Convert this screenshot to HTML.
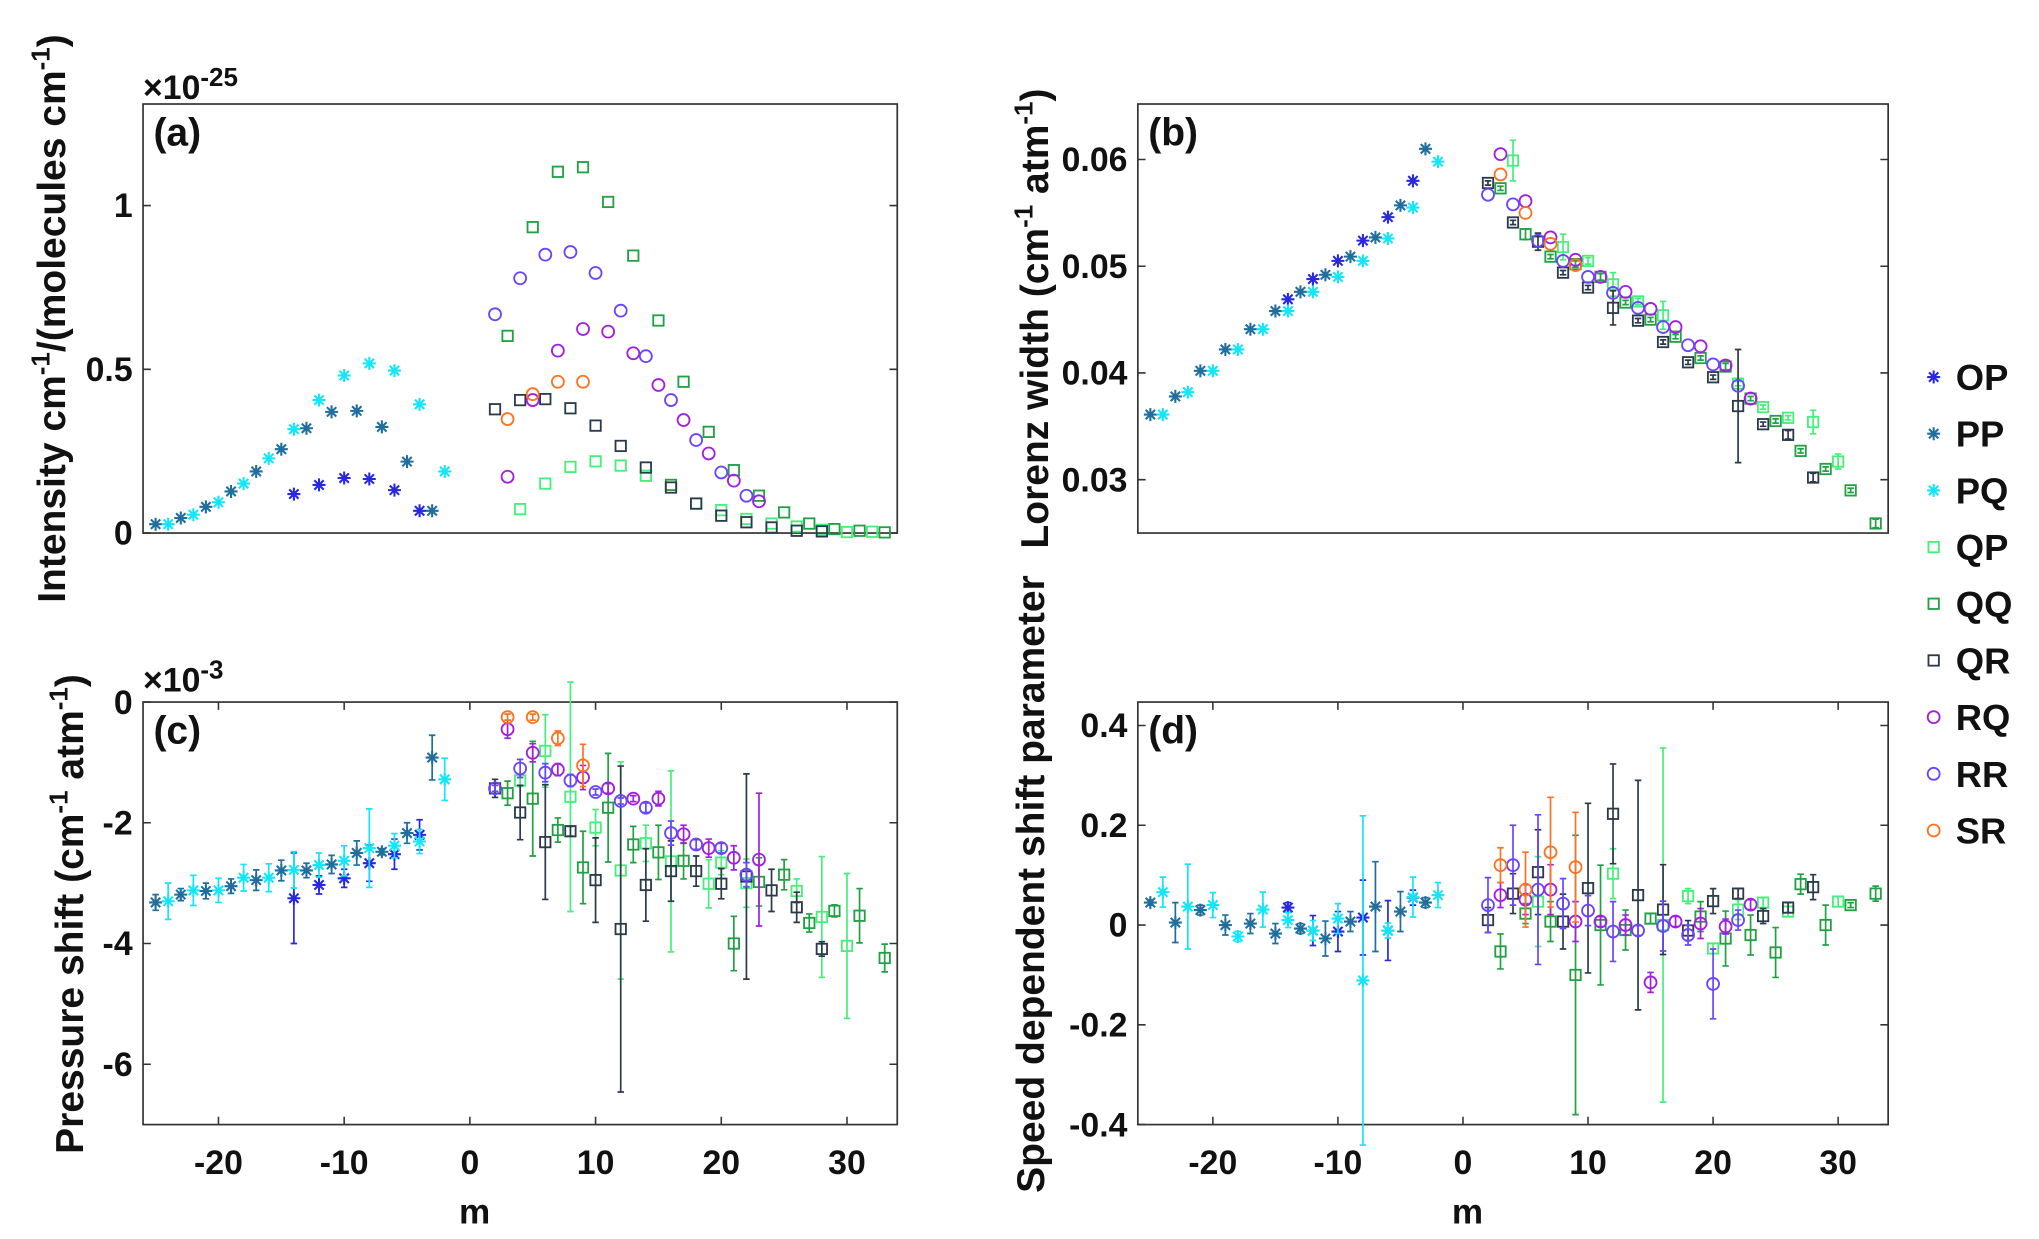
<!DOCTYPE html>
<html><head><meta charset="utf-8"><title>Line parameters vs m</title>
<style>html,body{margin:0;padding:0;background:#fff}svg{display:block}text{font-family:"Liberation Sans",Arial,sans-serif}</style></head>
<body>
<svg id="fig" width="2039" height="1239" viewBox="0 0 1568 953" preserveAspectRatio="none" xmlns="http://www.w3.org/2000/svg"></svg>
<script>
// ---- data: [m, value, error] ----
const A_OP=[[-14,0.119],[-12,0.147],[-10,0.168],[-8,0.165],[-6,0.131],[-4,0.068]];
const A_PP=[[-25,0.027],[-23,0.046],[-21,0.08],[-19,0.127],[-17,0.188],[-15,0.256],[-13,0.32],[-11,0.37],[-9,0.373],[-7,0.324],[-5,0.218],[-3,0.068]];
const A_PQ=[[-24,0.027],[-22,0.056],[-20,0.094],[-18,0.151],[-16,0.228],[-14,0.317],[-12,0.406],[-10,0.481],[-8,0.518],[-6,0.496],[-4,0.393],[-2,0.188]];
const A_QP=[[4,0.073],[6,0.151],[8,0.202],[10,0.219],[12,0.206],[14,0.175],[18,0.09],[20,0.07],[22,0.043],[24,0.029],[26,0.02],[28,0.01],[30,0.003],[32,0.004]];
const A_QQ=[[3,0.602],[5,0.934],[7,1.103],[9,1.117],[11,1.011],[13,0.847],[15,0.649],[16,0.147],[17,0.462],[19,0.309],[21,0.192],[23,0.114],[25,0.063],[27,0.029],[29,0.012],[31,0.007],[33,0.002]];
const A_QR=[[2,0.378],[4,0.406],[6,0.409],[8,0.381],[10,0.328],[12,0.266],[14,0.2],[16,0.139],[18,0.09],[20,0.053],[22,0.033],[24,0.017],[26,0.007],[28,0.005]];
const A_RQ=[[3,0.172],[5,0.406],[7,0.557],[9,0.623],[11,0.615],[13,0.549],[15,0.452],[17,0.345],[19,0.243],[21,0.16],[23,0.097]];
const A_RR=[[2,0.668],[4,0.778],[6,0.85],[8,0.858],[10,0.794],[12,0.679],[14,0.54],[16,0.406],[18,0.284],[20,0.185],[22,0.114]];
const A_SR=[[3,0.348],[5,0.424],[7,0.462],[9,0.462]];

const B_OP=[[-14,0.0469],[-12,0.0488],[-10,0.0505],[-8,0.0524],[-6,0.0546],[-4,0.058]];
const B_PP=[[-25,0.0361],[-23,0.0378],[-21,0.0402],[-19,0.0422],[-17,0.0441],[-15,0.0458],[-13,0.0476],[-11,0.0492],[-9,0.0509],[-7,0.0527],[-5,0.0557],[-3,0.061]];
const B_PQ=[[-24,0.0361],[-22,0.0382],[-20,0.0402],[-18,0.0422],[-16,0.0441],[-14,0.0458],[-12,0.0476],[-10,0.049],[-8,0.0505],[-6,0.0526],[-4,0.0555],[-2,0.0598]];
const B_QP=[[4,0.0599,0.0019],[8,0.0518,0.0012],[10,0.0505,0.0003],[12,0.0483,0.0011],[14,0.0467,0.0003],[16,0.0454,0.0013],[22,0.039,0.0002],[24,0.0368,0.0002],[26,0.0358,0.0002],[28,0.0354,0.0011],[30,0.0317,0.0007]];
const B_QQ=[[3,0.0573,0.0002],[5,0.053,0.0005],[7,0.0509,0.0002],[9,0.0502,0.0003],[11,0.049,0.0003],[13,0.0466,0.0002],[15,0.045,0.0002],[17,0.0434,0.0002],[19,0.0414,0.0002],[21,0.0406,0.0003],[23,0.0376,0.0002],[25,0.0355,0.0002],[27,0.0327,0.0002],[29,0.031,0.0002],[31,0.029,0.0002],[33,0.0259,0.0004]];
const B_QR=[[2,0.0578,0.0002],[4,0.0541,0.0002],[6,0.0523,0.0008],[8,0.0494,0.0002],[10,0.048,0.0002],[12,0.0461,0.0016],[14,0.0449,0.0002],[16,0.0429,0.0002],[18,0.041,0.0002],[20,0.0396,0.0002],[22,0.0369,0.0053],[24,0.0352,0.0002],[26,0.0342,0.0004],[28,0.0302,0.0004]];
const B_RQ=[[3,0.0605],[5,0.0561],[7,0.0527],[9,0.0506],[11,0.049],[13,0.0476],[15,0.046],[17,0.0443],[19,0.0425],[21,0.0407],[23,0.0376]];
const B_RR=[[2,0.0567],[4,0.0558],[6,0.0524],[8,0.0505],[10,0.049],[12,0.0475],[14,0.0461],[16,0.0443],[18,0.0426],[20,0.0408],[22,0.0388]];
const B_SR=[[3,0.0586],[5,0.055],[7,0.0521],[9,0.0501]];

const C_OP=[[-14,-3.25,0.75],[-12,-3.03,0.15],[-10,-2.92,0.15],[-8,-2.67,0.3],[-6,-2.52,0.25],[-4,-2.2,0.25]];
const C_PP=[[-25,-3.32,0.13],[-23,-3.19,0.1],[-21,-3.13,0.13],[-19,-3.05,0.12],[-17,-2.95,0.17],[-15,-2.79,0.17],[-13,-2.79,0.12],[-11,-2.69,0.15],[-9,-2.5,0.2],[-7,-2.48,0.05],[-5,-2.17,0.17],[-3,-0.92,0.37]];
const C_PQ=[[-24,-3.3,0.3],[-22,-3.12,0.25],[-20,-3.12,0.2],[-18,-2.91,0.22],[-16,-2.91,0.23],[-14,-2.78,0.3],[-12,-2.7,0.2],[-10,-2.63,0.25],[-8,-2.42,0.65],[-6,-2.38,0.2],[-4,-2.31,0.2],[-2,-1.28,0.35]];
const C_QP=[[4,-1.3,0.1],[6,-0.81,0.6],[8,-1.57,1.9],[10,-2.08,0.3],[12,-2.79,1.8],[14,-2.34,0.3],[16,-2.64,1.5],[19,-3.01,0.4],[20,-2.66,0.2],[22,-3.0,0.4],[26,-3.13,0.2],[28,-3.56,1.0],[30,-4.04,1.2]];
const C_QQ=[[3,-1.51,0.2],[5,-1.6,0.95],[7,-2.12,0.2],[9,-2.74,0.6],[11,-1.75,0.9],[13,-2.36,0.3],[15,-2.49,0.45],[17,-2.63,0.3],[21,-4.0,0.45],[23,-2.98,0.4],[25,-2.86,0.25],[27,-3.66,0.15],[29,-3.46,0.1],[31,-3.54,0.45],[33,-4.24,0.23]];
const C_QR=[[2,-1.43,0.15],[4,-1.83,0.45],[6,-2.32,0.95],[8,-2.14,0.08],[10,-2.95,0.7],[12,-3.76,2.7],[14,-3.03,0.6],[16,-2.8,0.5],[18,-2.8,0.25],[20,-3.01,0.25],[22,-2.89,1.7],[24,-3.12,0.35],[26,-3.4,0.25],[28,-4.09,0.12]];
const C_RQ=[[3,-0.45,0.15],[5,-0.84,0.15],[7,-1.12,0.1],[9,-1.25,0.2],[11,-1.43,0.08],[13,-1.6,0.05],[15,-1.6,0.12],[17,-2.19,0.15],[19,-2.42,0.15],[21,-2.58,0.2],[23,-2.61,1.1]];
const C_RR=[[2,-1.43,0.05],[4,-1.1,0.15],[6,-1.17,0.15],[8,-1.3,0.1],[10,-1.49,0.05],[12,-1.64,0.05],[14,-1.75,0.08],[16,-2.17,0.2],[18,-2.36,0.08],[20,-2.42,0.08],[22,-2.86,0.2]];
const C_SR=[[3,-0.25,0.05],[5,-0.25,0.05],[7,-0.6,0.12],[9,-1.05,0.35]];

const D_OP=[[-14,0.035,0.01],[-12,-0.011,0.03],[-10,-0.013,0.04],[-8,0.015,0.075],[-6,-0.011,0.06],[-4,0.055,0.015]];
const D_PP=[[-25,0.045,0.005],[-23,0.005,0.04],[-21,0.03,0.01],[-19,0,0.02],[-17,0.003,0.02],[-15,-0.017,0.02],[-13,-0.007,0.01],[-11,-0.027,0.035],[-9,0.007,0.02],[-7,0.037,0.09],[-5,0.027,0.04],[-3,0.045,0.01]];
const D_PQ=[[-24,0.066,0.03],[-22,0.037,0.085],[-20,0.04,0.025],[-18,-0.023,0.01],[-16,0.031,0.035],[-14,0.01,0.015],[-12,-0.011,0.02],[-10,0.013,0.03],[-8,-0.111,0.33],[-6,-0.011,0.015],[-4,0.056,0.04],[-2,0.06,0.025]];
const D_QP=[[6,0.047,0.09],[12,0.103,0.05],[16,0,0.355],[18,0.058,0.015],[20,-0.047,0.01],[22,0.031,0.02],[24,0.045,0.01],[26,0.027,0.01],[30,0.047,0.01]];
const D_QQ=[[3,-0.053,0.035],[5,0.023,0.02],[7,0.007,0.04],[9,-0.1,0.28],[11,0,0.12],[13,-0.01,0.04],[15,0.013,0.01],[19,0.017,0.03],[21,-0.027,0.055],[23,-0.02,0.04],[25,-0.055,0.05],[27,0.082,0.02],[29,0,0.04],[31,0.04,0.005],[33,0.063,0.015]];
const D_QR=[[2,0.01,0.025],[4,0.063,0.04],[6,0.106,0.085],[8,0.007,0.055],[10,0.074,0.17],[12,0.223,0.1],[14,0.06,0.23],[16,0.031,0.09],[18,-0.011,0.02],[20,0.048,0.025],[22,0.063,0.01],[24,0.018,0.015],[26,0.035,0.01],[28,0.076,0.025]];
const D_RQ=[[3,0.06,0.025],[5,0.051,0.03],[7,0.071,0.05],[9,0.007,0.04],[11,0.007,0.01],[13,0,0.02],[15,-0.115,0.02],[17,0.007,0.01],[19,0.003,0.03],[21,-0.003,0.015],[23,0.041,0.01]];
const D_RR=[[2,0.04,0.055],[4,0.12,0.08],[6,0.071,0.15],[8,0.043,0.05],[10,0.029,0.03],[12,-0.013,0.06],[14,-0.011,0.01],[16,-0.002,0.05],[18,-0.02,0.02],[20,-0.118,0.07],[22,0.01,0.02]];
const D_SR=[[3,0.12,0.035],[5,0.071,0.075],[7,0.146,0.11],[9,0.116,0.11]];

const legendLabels=["OP","PP","PQ","QP","QQ","QR","RQ","RR","SR"];
const xTicks=[-20,-10,0,10,20,30];
const aTicks=[0,0.5,1], aTickLabels=["0","0.5","1"];
const bTicks=[0.03,0.04,0.05,0.06], bTickLabels=["0.03","0.04","0.05","0.06"];
const cTicks=[0,-2,-4,-6], cTickLabels=["0","-2","-4","-6"];
const dTicks=[-0.4,-0.2,0,0.2,0.4], dTickLabels=["-0.4","-0.2","0","0.2","0.4"];

// ---- styling ----
const COL={OP:"#2828e0",PP:"#1f6e9e",PQ:"#12e6f8",QP:"#45f07a",QQ:"#22a044",QR:"#2b3a4a",RQ:"#a21fe0",RR:"#6a45ff",SR:"#ff7222"};
const MK={OP:"star",PP:"star",PQ:"star",QP:"sq",QQ:"sq",QR:"sq",RQ:"circ",RR:"circ",SR:"circ"};
const NS="http://www.w3.org/2000/svg";
const svg=document.getElementById("fig");
function mk(tag,attrs,parent){const e=document.createElementNS(NS,tag);for(const k in attrs)e.setAttribute(k,attrs[k]);(parent||svg).appendChild(e);return e;}

const panels={
 a:{x0:110,x1:690,y0:80,y1:410,xmin:-26,xmax:34,ymin:0,ymax:1.31,ticks:aTicks,labels:aTickLabels,xlab:false,topTicks:false,
    series:{OP:A_OP,PP:A_PP,PQ:A_PQ,QP:A_QP,QQ:A_QQ,QR:A_QR,RQ:A_RQ,RR:A_RR,SR:A_SR}},
 b:{x0:875,x1:1452,y0:80,y1:410,xmin:-26,xmax:34,ymin:0.025,ymax:0.0652,ticks:bTicks,labels:bTickLabels,xlab:false,topTicks:false,
    series:{OP:B_OP,PP:B_PP,PQ:B_PQ,QP:B_QP,QQ:B_QQ,QR:B_QR,RQ:B_RQ,RR:B_RR,SR:B_SR}},
 c:{x0:110,x1:690,y0:540,y1:865,xmin:-26,xmax:34,ymin:-7,ymax:0,ticks:cTicks,labels:cTickLabels,xlab:true,topTicks:true,
    series:{OP:C_OP,PP:C_PP,PQ:C_PQ,QP:C_QP,QQ:C_QQ,QR:C_QR,RQ:C_RQ,RR:C_RR,SR:C_SR}},
 d:{x0:875,x1:1452,y0:540,y1:865,xmin:-26,xmax:34,ymin:-0.4,ymax:0.447,ticks:dTicks,labels:dTickLabels,xlab:true,topTicks:true,
    series:{OP:D_OP,PP:D_PP,PQ:D_PQ,QP:D_QP,QQ:D_QQ,QR:D_QR,RQ:D_RQ,RR:D_RR,SR:D_SR}}
};
function sx(p,m){return p.x0+(m-p.xmin)/(p.xmax-p.xmin)*(p.x1-p.x0);}
function sy(p,v){return p.y1-(v-p.ymin)/(p.ymax-p.ymin)*(p.y1-p.y0);}

function marker(g,type,x,y,c){
  if(type==="star"){
    const r=5,d=3.6;
    mk("path",{d:`M${x-r},${y}H${x+r}M${x},${y-r}V${y+r}M${x-d},${y-d}L${x+d},${y+d}M${x-d},${y+d}L${x+d},${y-d}`,stroke:c,"stroke-width":1.6,fill:"none"},g);
  }else if(type==="sq"){
    mk("rect",{x:x-4,y:y-4,width:8,height:8,stroke:c,"stroke-width":1.4,fill:"none"},g);
  }else{
    mk("circle",{cx:x,cy:y,r:4.6,stroke:c,"stroke-width":1.4,fill:"none"},g);
  }
}

for(const key in panels){
  const p=panels[key];
  const pg=mk("g",{});
  
  
  const box=mk("rect",{x:p.x0,y:p.y0,width:p.x1-p.x0,height:p.y1-p.y0,fill:"none",stroke:"#333","stroke-width":1.3},pg);
  
  
  p.ticks.forEach((t,i)=>{
    const y=sy(p,t);
    mk("path",{d:`M${p.x0},${y}h6M${p.x1},${y}h-6`,stroke:"#333","stroke-width":1.2},pg);
    const tl=mk("text",{x:p.x0-8,y:y+9,"text-anchor":"end","font-size":26,"font-weight":"bold",fill:"#111"},pg);
    tl.textContent=p.labels[i];
    
    
  });
  xTicks.forEach(t=>{
    const x=sx(p,t);
    if(p.topTicks) mk("path",{d:`M${x},${p.y1}v-6M${x},${p.y0}v6`,stroke:"#333","stroke-width":1.2},pg);
    if(p.xlab){
      const tl=mk("text",{x:x,y:p.y1+38,"text-anchor":"middle","font-size":26,"font-weight":"bold",fill:"#111"},pg);
      tl.textContent=String(t);
      
      
    }
  });
  if(p.xlab){
    const xl=mk("text",{x:(p.x0+p.x1)/2-35,y:p.y1+76,"text-anchor":"middle","font-size":27,"font-weight":"bold",fill:"#111"},pg);
    xl.textContent="m";
    
    
  }
  const pl=mk("text",{x:p.x0+8,y:p.y0+32,"font-size":30,"font-weight":"bold",fill:"#111"},pg);
  pl.textContent="("+key+")";
  
  
  for(const s in p.series){
    const g=mk("g",{},pg);
    
    
    p.series[s].forEach(pt=>{
      const x=sx(p,pt[0]),y=sy(p,pt[1]);
      if(pt.length>2){
        const y1=sy(p,pt[1]-pt[2]),y2=sy(p,pt[1]+pt[2]);
        const eb=mk("path",{d:`M${x},${y1}V${y2}M${x-2.5},${y1}h5M${x-2.5},${y2}h5`,stroke:COL[s],"stroke-width":1.3,fill:"none"},g);
        
        
      }
      marker(g,MK[s],x,y,COL[s]);
    });
  }
}

function expo(x,y,e,name){
  const t=mk("text",{x:x,y:y,"font-size":26,"font-weight":"bold",fill:"#111"});
  t.innerHTML='×10<tspan dy="-10" font-size="20">'+e+'</tspan>';
  
  
}
expo(110,76,"-25","y-exponent-a");
expo(110,532,"-3","y-exponent-c");

function ytitle(x,y,html,name){
  const t=mk("text",{x:0,y:0,"text-anchor":"middle","font-size":30,"font-weight":"bold",fill:"#111",transform:`translate(${x},${y}) rotate(-90)`});
  t.innerHTML=html;
  
  
}
ytitle(50,245,'Intensity cm<tspan dy="-12" font-size="20">-1</tspan><tspan dy="12">/(molecules cm</tspan><tspan dy="-12" font-size="20">-1</tspan><tspan dy="12">)</tspan>',"y-axis-title-a");
ytitle(806,245,'Lorenz width (cm<tspan dy="-12" font-size="20">-1</tspan><tspan dy="12"> atm</tspan><tspan dy="-12" font-size="20">-1</tspan><tspan dy="12">)</tspan>',"y-axis-title-b");
ytitle(64,703,'Pressure shift (cm<tspan dy="-12" font-size="20">-1</tspan><tspan dy="12"> atm</tspan><tspan dy="-12" font-size="20">-1</tspan><tspan dy="12">)</tspan>',"y-axis-title-c");
ytitle(803,680,'Speed dependent shift parameter',"y-axis-title-d");

const lg=mk("g",{});


legendLabels.forEach((s,i)=>{
  const y=290+i*43.6;
  const e=mk("g",{},lg);
  
  
  marker(e,MK[s],1487,y,COL[s]);
  const t=mk("text",{x:1504,y:y+10,"font-size":28,"font-weight":"bold",fill:"#111"},e);
  t.textContent=s;
});
</script>
</body></html>
